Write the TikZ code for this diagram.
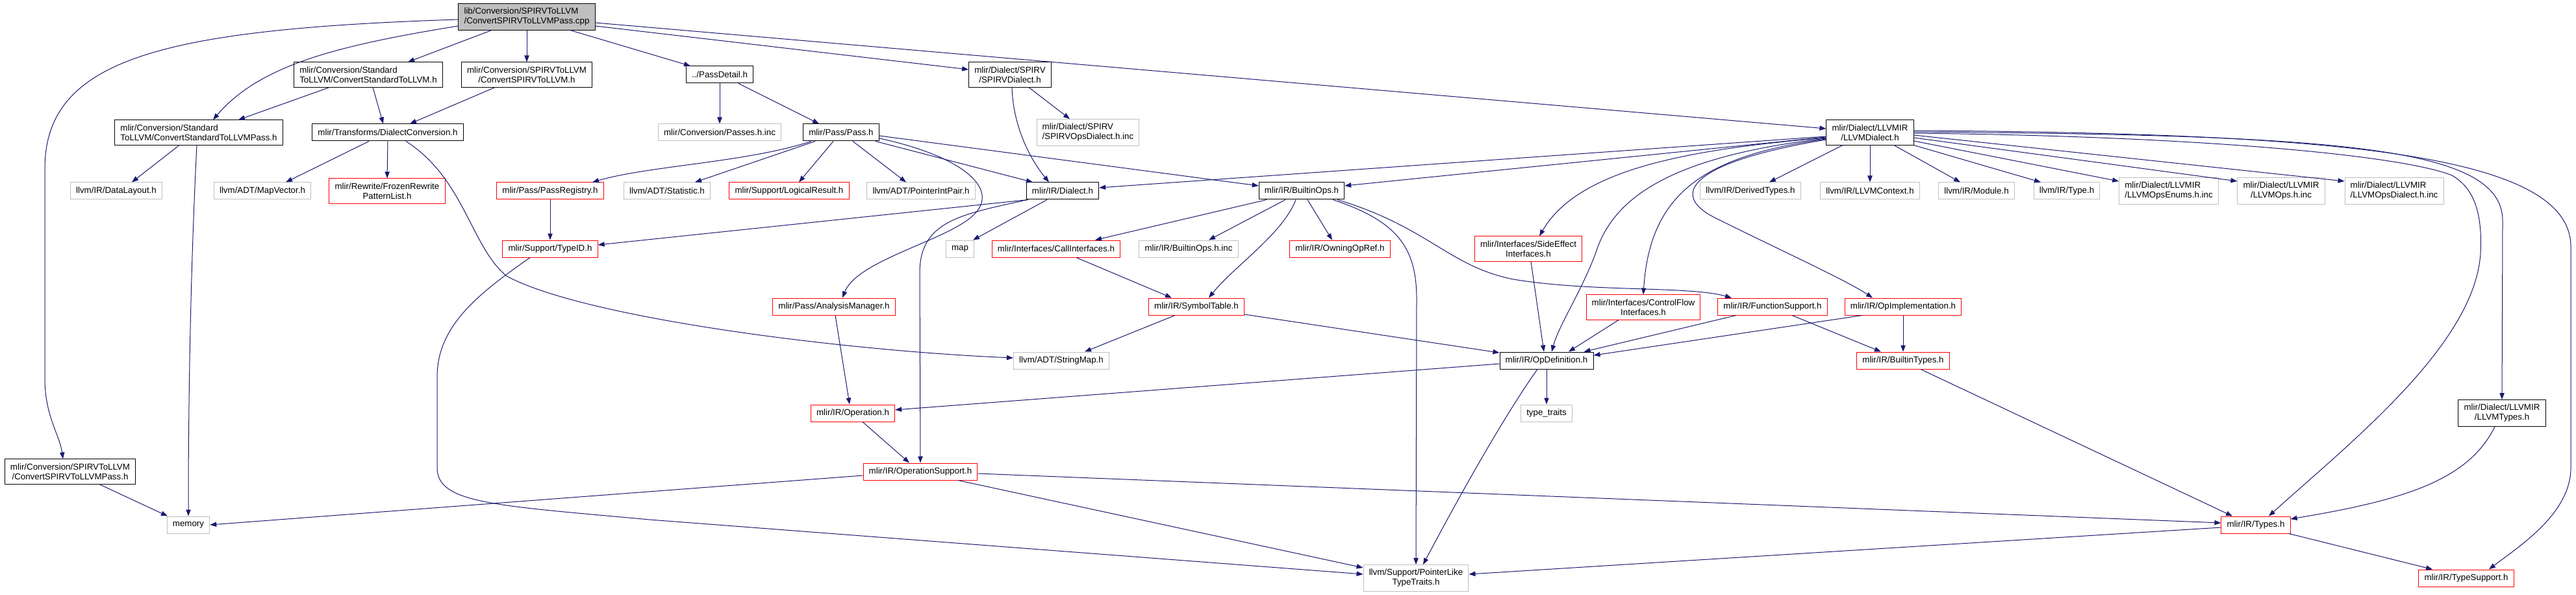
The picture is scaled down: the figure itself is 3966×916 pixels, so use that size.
\documentclass[tikz,border=0pt]{standalone}
\usepackage{fontspec}
\setmainfont{Liberation Sans}
\usetikzlibrary{arrows.meta,calc}
\definecolor{depblue}{HTML}{191970}
\definecolor{extgray}{HTML}{BFBFBF}
\definecolor{rootgray}{HTML}{BFBFBF}
\definecolor{truncred}{HTML}{FF0000}
\begin{document}
\begin{tikzpicture}[
  x=0.75pt, y=-0.75pt,
  every node/.style={font=\fontsize{10}{11.25}\selectfont, inner xsep=6.5pt,
    inner ysep=5pt, minimum height=19.5pt, line width=0.75pt},
  % node kinds: the file itself, documented headers, outside headers,
  % and headers whose own graph was cut off
  rootfile/.style={draw=black, fill=rootgray},
  doc/.style={draw=black, fill=white},
  ext/.style={draw=extgray, fill=white},
  trunc/.style={draw=truncred, fill=white},
  dep/.style={draw=depblue, line width=0.75pt,
    -{Triangle[length=7.5pt, width=5.5pt]}}]

  \useasboundingbox (0,0) rectangle (3966,916);

  % vertices
  \node[rootfile, align=left] (root) at (811,26) {lib/Conversion/SPIRVToLLVM\\/ConvertSPIRVToLLVMPass.cpp};
  \node[doc, align=left]   (cstl)       at (567,115)  {mlir/Conversion/Standard\\ToLLVM/ConvertStandardToLLVM.h};
  \node[doc, align=center] (cspirv)     at (811,115)  {mlir/Conversion/SPIRVToLLVM\\/ConvertSPIRVToLLVM.h};
  \node[doc]               (passdetail) at (1108,115) {../PassDetail.h};
  \node[doc, align=center] (spirvdialect) at (1555,115) {mlir/Dialect/SPIRV\\/SPIRVDialect.h};
  \node[doc, align=left]   (cstlpass)   at (306,204)  {mlir/Conversion/Standard\\ToLLVM/ConvertStandardToLLVMPass.h};
  \node[doc]               (dialconv)   at (597,204)  {mlir/Transforms/DialectConversion.h};
  \node[ext]               (passesinc)  at (1108,204) {mlir/Conversion/Passes.h.inc};
  \node[doc]               (pass)       at (1295,204) {mlir/Pass/Pass.h};
  \node[ext, align=left]   (spirvopsinc) at (1675,204) {mlir/Dialect/SPIRV\\/SPIRVOpsDialect.h.inc};
  \node[doc, align=center] (llvmdialect) at (2879,204) {mlir/Dialect/LLVMIR\\/LLVMDialect.h};

  \node[ext]   (datalayout)   at (179,294)  {llvm/IR/DataLayout.h};
  \node[ext]   (mapvector)    at (404,294)  {llvm/ADT/MapVector.h};
  \node[trunc, align=center] (frozen) at (596,294) {mlir/Rewrite/FrozenRewrite\\PatternList.h};
  \node[trunc] (passreg)      at (847,294)  {mlir/Pass/PassRegistry.h};
  \node[ext]   (statistic)    at (1027,294) {llvm/ADT/Statistic.h};
  \node[trunc] (logical)      at (1215,294) {mlir/Support/LogicalResult.h};
  \node[ext]   (ptrintpair)   at (1418,294) {llvm/ADT/PointerIntPair.h};
  \node[doc]   (irdialect)    at (1636,294) {mlir/IR/Dialect.h};
  \node[doc]   (builtinops)   at (2004,294) {mlir/IR/BuiltinOps.h};
  \node[ext]   (derivedtypes) at (2695,294) {llvm/IR/DerivedTypes.h};
  \node[ext]   (llvmcontext)  at (2879,294) {llvm/IR/LLVMContext.h};
  \node[ext]   (module)       at (3043,294) {llvm/IR/Module.h};
  \node[ext]   (typeh)        at (3182,294) {llvm/IR/Type.h};
  \node[ext, align=left]   (opsenums)      at (3339,294) {mlir/Dialect/LLVMIR\\/LLVMOpsEnums.h.inc};
  \node[ext, align=center] (opsinc)        at (3512,294) {mlir/Dialect/LLVMIR\\/LLVMOps.h.inc};
  \node[ext, align=left]   (opsdialectinc) at (3686,294) {mlir/Dialect/LLVMIR\\/LLVMOpsDialect.h.inc};

  \node[trunc] (typeid)        at (847,383)  {mlir/Support/TypeID.h};
  \node[ext]   (map)           at (1478,383) {map};
  \node[trunc] (callif)        at (1626,383) {mlir/Interfaces/CallInterfaces.h};
  \node[ext]   (builtinopsinc) at (1830,383) {mlir/IR/BuiltinOps.h.inc};
  \node[trunc] (owning)        at (2063,383) {mlir/IR/OwningOpRef.h};
  \node[trunc, align=center] (sideeffect) at (2353,383) {mlir/Interfaces/SideEffect\\Interfaces.h};

  \node[trunc] (analysis)    at (1284,472) {mlir/Pass/AnalysisManager.h};
  \node[trunc] (symtab)      at (1842,472) {mlir/IR/SymbolTable.h};
  \node[trunc, align=center] (controlflow) at (2530,473) {mlir/Interfaces/ControlFlow\\Interfaces.h};
  \node[trunc] (funcsupport) at (2729,472) {mlir/IR/FunctionSupport.h};
  \node[trunc] (opimpl)      at (2930,472) {mlir/IR/OpImplementation.h};

  \node[ext]   (stringmap)    at (1634,555) {llvm/ADT/StringMap.h};
  \node[doc]   (opdef)        at (2381,555) {mlir/IR/OpDefinition.h};
  \node[trunc] (builtintypes) at (2930,555) {mlir/IR/BuiltinTypes.h};

  \node[trunc] (operation)  at (1313,636) {mlir/IR/Operation.h};
  \node[ext]   (typetraits) at (2381,636) {type\_traits};
  \node[doc, align=center] (llvmtypes) at (3852,636) {mlir/Dialect/LLVMIR\\/LLVMTypes.h};

  \node[doc, align=center] (cspirvpass) at (108,726) {mlir/Conversion/SPIRVToLLVM\\/ConvertSPIRVToLLVMPass.h};
  \node[trunc] (opsupport) at (1417,726) {mlir/IR/OperationSupport.h};
  \node[ext]   (memory)    at (290,808)  {memory};
  \node[trunc] (types)     at (3473,808) {mlir/IR/Types.h};
  \node[ext, align=center] (ptrlike) at (2180,890) {llvm/Support/PointerLike\\TypeTraits.h};
  \node[trunc] (typesupport) at (3797,890) {mlir/IR/TypeSupport.h};

  % arrows from the source file
  \draw[dep] ($(root.west)+(0,4)$) .. controls (250,45) and (69,90) .. (69,260) -- (69,583)
    .. controls (69,640) and (92,670) .. ($(cspirvpass.north)+(-11,0)$);
  \draw[dep] ($(root.west)+(0,14)$) .. controls (520,70) and (400,100) .. ($(cstlpass.north)+(22,0)$);
  \draw[dep] ($(root.south)+(-55,0)$) -- ($(cstl.north)+(61,0)$);
  \draw[dep] (root.south) -- (cspirv.north);
  \draw[dep] ($(root.south)+(68,0)$) -- ($(passdetail.north)+(-45,0)$);
  \draw[dep] ($(root.east)+(0,9)$) -- ($(llvmdialect.west)+(0,-6)$);
  \draw[dep] ($(root.east)+(0,14)$) -- ($(spirvdialect.west)+(0,-8)$);

  % conversion headers
  \draw[dep] ($(cstl.south)+(-60,0)$) -- ($(cstlpass.north)+(61,0)$);
  \draw[dep] ($(cstl.south)+(7,0)$) -- ($(dialconv.north)+(-7,0)$);
  \draw[dep] ($(cspirv.south)+(-49,0)$) -- ($(dialconv.north)+(34,0)$);
  \draw[dep] ($(cstlpass.south)+(-30,0)$) -- ($(datalayout.north)+(24,0)$);
  \draw[dep] ($(cstlpass.south)+(-3,0)$) .. controls (294,400) and (290,600) .. (memory.north);
  \draw[dep] ($(cspirvpass.south)+(45,0)$) -- ($(memory.north)+(-32,0)$);
  \draw[dep] ($(dialconv.south)+(-29,0)$) -- ($(mapvector.north)+(36,0)$);
  \draw[dep] (dialconv.south) -- (frozen.north);
  \draw[dep] ($(dialconv.south)+(28,0)$) .. controls (715,275) and (725,380) .. (780,425)
    .. controls (900,490) and (1300,540) .. ($(stringmap.west)+(0,-4)$);

  % pass headers
  \draw[dep] (passdetail.south) -- (passesinc.north);
  \draw[dep] ($(passdetail.south)+(29,0)$) -- ($(pass.north)+(-34,0)$);
  \draw[dep] ($(pass.south)+(-46,0)$) .. controls (1150,250) and (1000,255) .. ($(passreg.north)+(65,0)$);
  \draw[dep] ($(pass.south)+(-40,0)$) -- ($(statistic.north)+(43,0)$);
  \draw[dep] ($(pass.south)+(-12,0)$) -- ($(logical.north)+(15,0)$);
  \draw[dep] ($(pass.south)+(18,0)$) -- ($(ptrintpair.north)+(-23,0)$);
  \draw[dep] ($(pass.south)+(53,0)$) -- ($(irdialect.north)+(-46,0)$);
  \draw[dep] ($(pass.east)+(0,5)$) -- ($(builtinops.west)+(0,-8)$);
  \draw[dep] ($(pass.east)+(0,9)$) .. controls (1480,240) and (1540,290) .. (1500,330)
    .. controls (1460,370) and (1320,400) .. ($(analysis.north)+(13,0)$);
  \draw[dep] (passreg.south) -- (typeid.north);
  \draw[dep] ($(analysis.south)+(2,0)$) -- ($(operation.north)+(-5,0)$);

  % SPIR-V dialect
  \draw[dep] ($(spirvdialect.south)+(3,0)$) .. controls (1560,200) and (1590,250) .. ($(irdialect.north)+(-21,0)$);
  \draw[dep] ($(spirvdialect.south)+(29,0)$) -- ($(spirvopsinc.north)+(-28,0)$);

  % IR headers
  \draw[dep] ($(irdialect.south west)+(3,0)$) -- ($(typeid.east)+(0,-6)$);
  \draw[dep] ($(irdialect.south)+(-54,0)$) .. controls (1480,330) and (1416,340) .. (1416,420) -- (opsupport.north);
  \draw[dep] ($(irdialect.south)+(-24,0)$) -- ($(map.north)+(20,0)$);
  \draw[dep] ($(builtinops.south)+(-54,0)$) -- ($(callif.north)+(60,0)$);
  \draw[dep] ($(builtinops.south)+(-25,0)$) -- ($(builtinopsinc.north)+(31,0)$);
  \draw[dep] ($(builtinops.south)+(-9,0)$) .. controls (1975,360) and (1900,410) .. ($(symtab.north)+(19,0)$);
  \draw[dep] ($(builtinops.south)+(9,0)$) -- ($(owning.north)+(-12,0)$);
  \draw[dep] ($(builtinops.south east)+(-18,0)$) .. controls (2150,340) and (2181,380) .. (2181,460) -- (ptrlike.north);
  \draw[dep] ($(builtinops.south east)+(-11,0)$) .. controls (2200,350) and (2230,410) .. (2330,430)
    .. controls (2450,450) and (2600,440) .. ($(funcsupport.north)+(-63,0)$);
  \draw[dep] ($(callif.south)+(31,0)$) -- ($(symtab.north)+(-38,0)$);
  \draw[dep] ($(symtab.south)+(-33,0)$) -- ($(stringmap.north)+(36,0)$);
  \draw[dep] ($(symtab.east)+(0,12)$) -- ($(opdef.west)+(0,-12)$);

  % LLVM dialect
  \draw[dep] ($(llvmdialect.west)+(0,6)$) -- ($(irdialect.east)+(0,-5)$);
  \draw[dep] ($(llvmdialect.west)+(0,7)$) -- ($(builtinops.east)+(0,-8)$);
  \draw[dep] ($(llvmdialect.west)+(0,8)$) .. controls (2600,230) and (2430,260) .. ($(sideeffect.north)+(17,0)$);
  \draw[dep] ($(llvmdialect.west)+(0,9)$) .. controls (2580,240) and (2490,300) .. (2460,380)
    .. controls (2440,440) and (2400,500) .. ($(opdef.north)+(8,0)$);
  \draw[dep] ($(llvmdialect.west)+(0,10)$) .. controls (2620,240) and (2540,300) .. (controlflow.north);
  \draw[dep] ($(llvmdialect.west)+(0,11)$) .. controls (2600,250) and (2570,300) .. (2640,335)
    .. controls (2740,385) and (2840,430) .. ($(opimpl.north)+(-47,0)$);
  \draw[dep] ($(llvmdialect.south)+(-42,0)$) -- ($(derivedtypes.north)+(29,0)$);
  \draw[dep] (llvmdialect.south) -- (llvmcontext.north);
  \draw[dep] ($(llvmdialect.south)+(37,0)$) -- ($(module.north)+(-25,0)$);
  \draw[dep] (llvmdialect.south east) -- ($(typeh.north)+(-40,0)$);
  \draw[dep] ($(llvmdialect.east)+(0,13)$) -- ($(opsenums.west)+(0,-15)$);
  \draw[dep] ($(llvmdialect.east)+(0,8)$) -- ($(opsinc.west)+(0,-15)$);
  \draw[dep] ($(llvmdialect.east)+(0,4)$) -- ($(opsdialectinc.west)+(0,-15)$);
  \draw[dep] ($(llvmdialect.east)+(0,1)$) .. controls (3400,210) and (3700,240) .. (3775,270)
    .. controls (3810,290) and (3822,330) .. (3819,390)
    .. controls (3810,530) and (3620,680) .. ($(types.north)+(20,0)$);
  \draw[dep] ($(llvmdialect.east)+(0,-1)$) .. controls (3600,208) and (3853,225) .. (3853,340) -- (llvmtypes.north);
  \draw[dep] ($(llvmdialect.east)+(0,-3)$) .. controls (3620,205) and (3958,240) .. (3958,380) -- (3958,720)
    .. controls (3958,790) and (3880,840) .. ($(typesupport.north)+(35,0)$);

  % interfaces and op definitions
  \draw[dep] ($(sideeffect.south)+(4,0)$) -- ($(opdef.north)+(-4,0)$);
  \draw[dep] ($(controlflow.south)+(-38,0)$) -- ($(opdef.north)+(34,0)$);
  \draw[dep] ($(funcsupport.south)+(-56,0)$) -- ($(opdef.north east)+(-15,0)$);
  \draw[dep] ($(funcsupport.south)+(30,0)$) -- ($(builtintypes.north)+(-34,0)$);
  \draw[dep] ($(opimpl.south)+(-63,0)$) -- ($(opdef.east)+(0,-8)$);
  \draw[dep] (opimpl.south) -- (builtintypes.north);
  \draw[dep] (opdef.south) -- (typetraits.north);
  \draw[dep] ($(opdef.south)+(-14,0)$) .. controls (2330,620) and (2270,720) .. ($(ptrlike.north)+(11,0)$);
  \draw[dep] ($(opdef.west)+(0,5)$) -- ($(operation.east)+(0,-5)$);
  \draw[dep] ($(operation.south)+(15,0)$) -- ($(opsupport.north)+(-17,0)$);

  % bottom row
  \draw[dep] ($(opsupport.west)+(0,6)$) -- (memory.east);
  \draw[dep] ($(opsupport.east)+(0,3)$) -- ($(types.west)+(0,-3)$);
  \draw[dep] ($(opsupport.south)+(58,0)$) -- ($(ptrlike.west)+(0,-16)$);
  \draw[dep] ($(typeid.south)+(-31,0)$) .. controls (740,450) and (673,500) .. (673,580) -- (673,720)
    .. controls (673,775) and (760,778) .. (1000,800) -- ($(ptrlike.west)+(0,-6)$);
  \draw[dep] ($(builtintypes.south)+(27,0)$) -- ($(types.north)+(-36,0)$);
  \draw[dep] ($(llvmtypes.south)+(-11,0)$) .. controls (3800,740) and (3700,770) .. ($(types.east)+(0,-9)$);
  \draw[dep] ($(types.south)+(51,0)$) -- ($(typesupport.north)+(-52,0)$);
  \draw[dep] ($(types.west)+(0,4)$) -- ($(ptrlike.east)+(0,-6)$);
\end{tikzpicture}
\end{document}
